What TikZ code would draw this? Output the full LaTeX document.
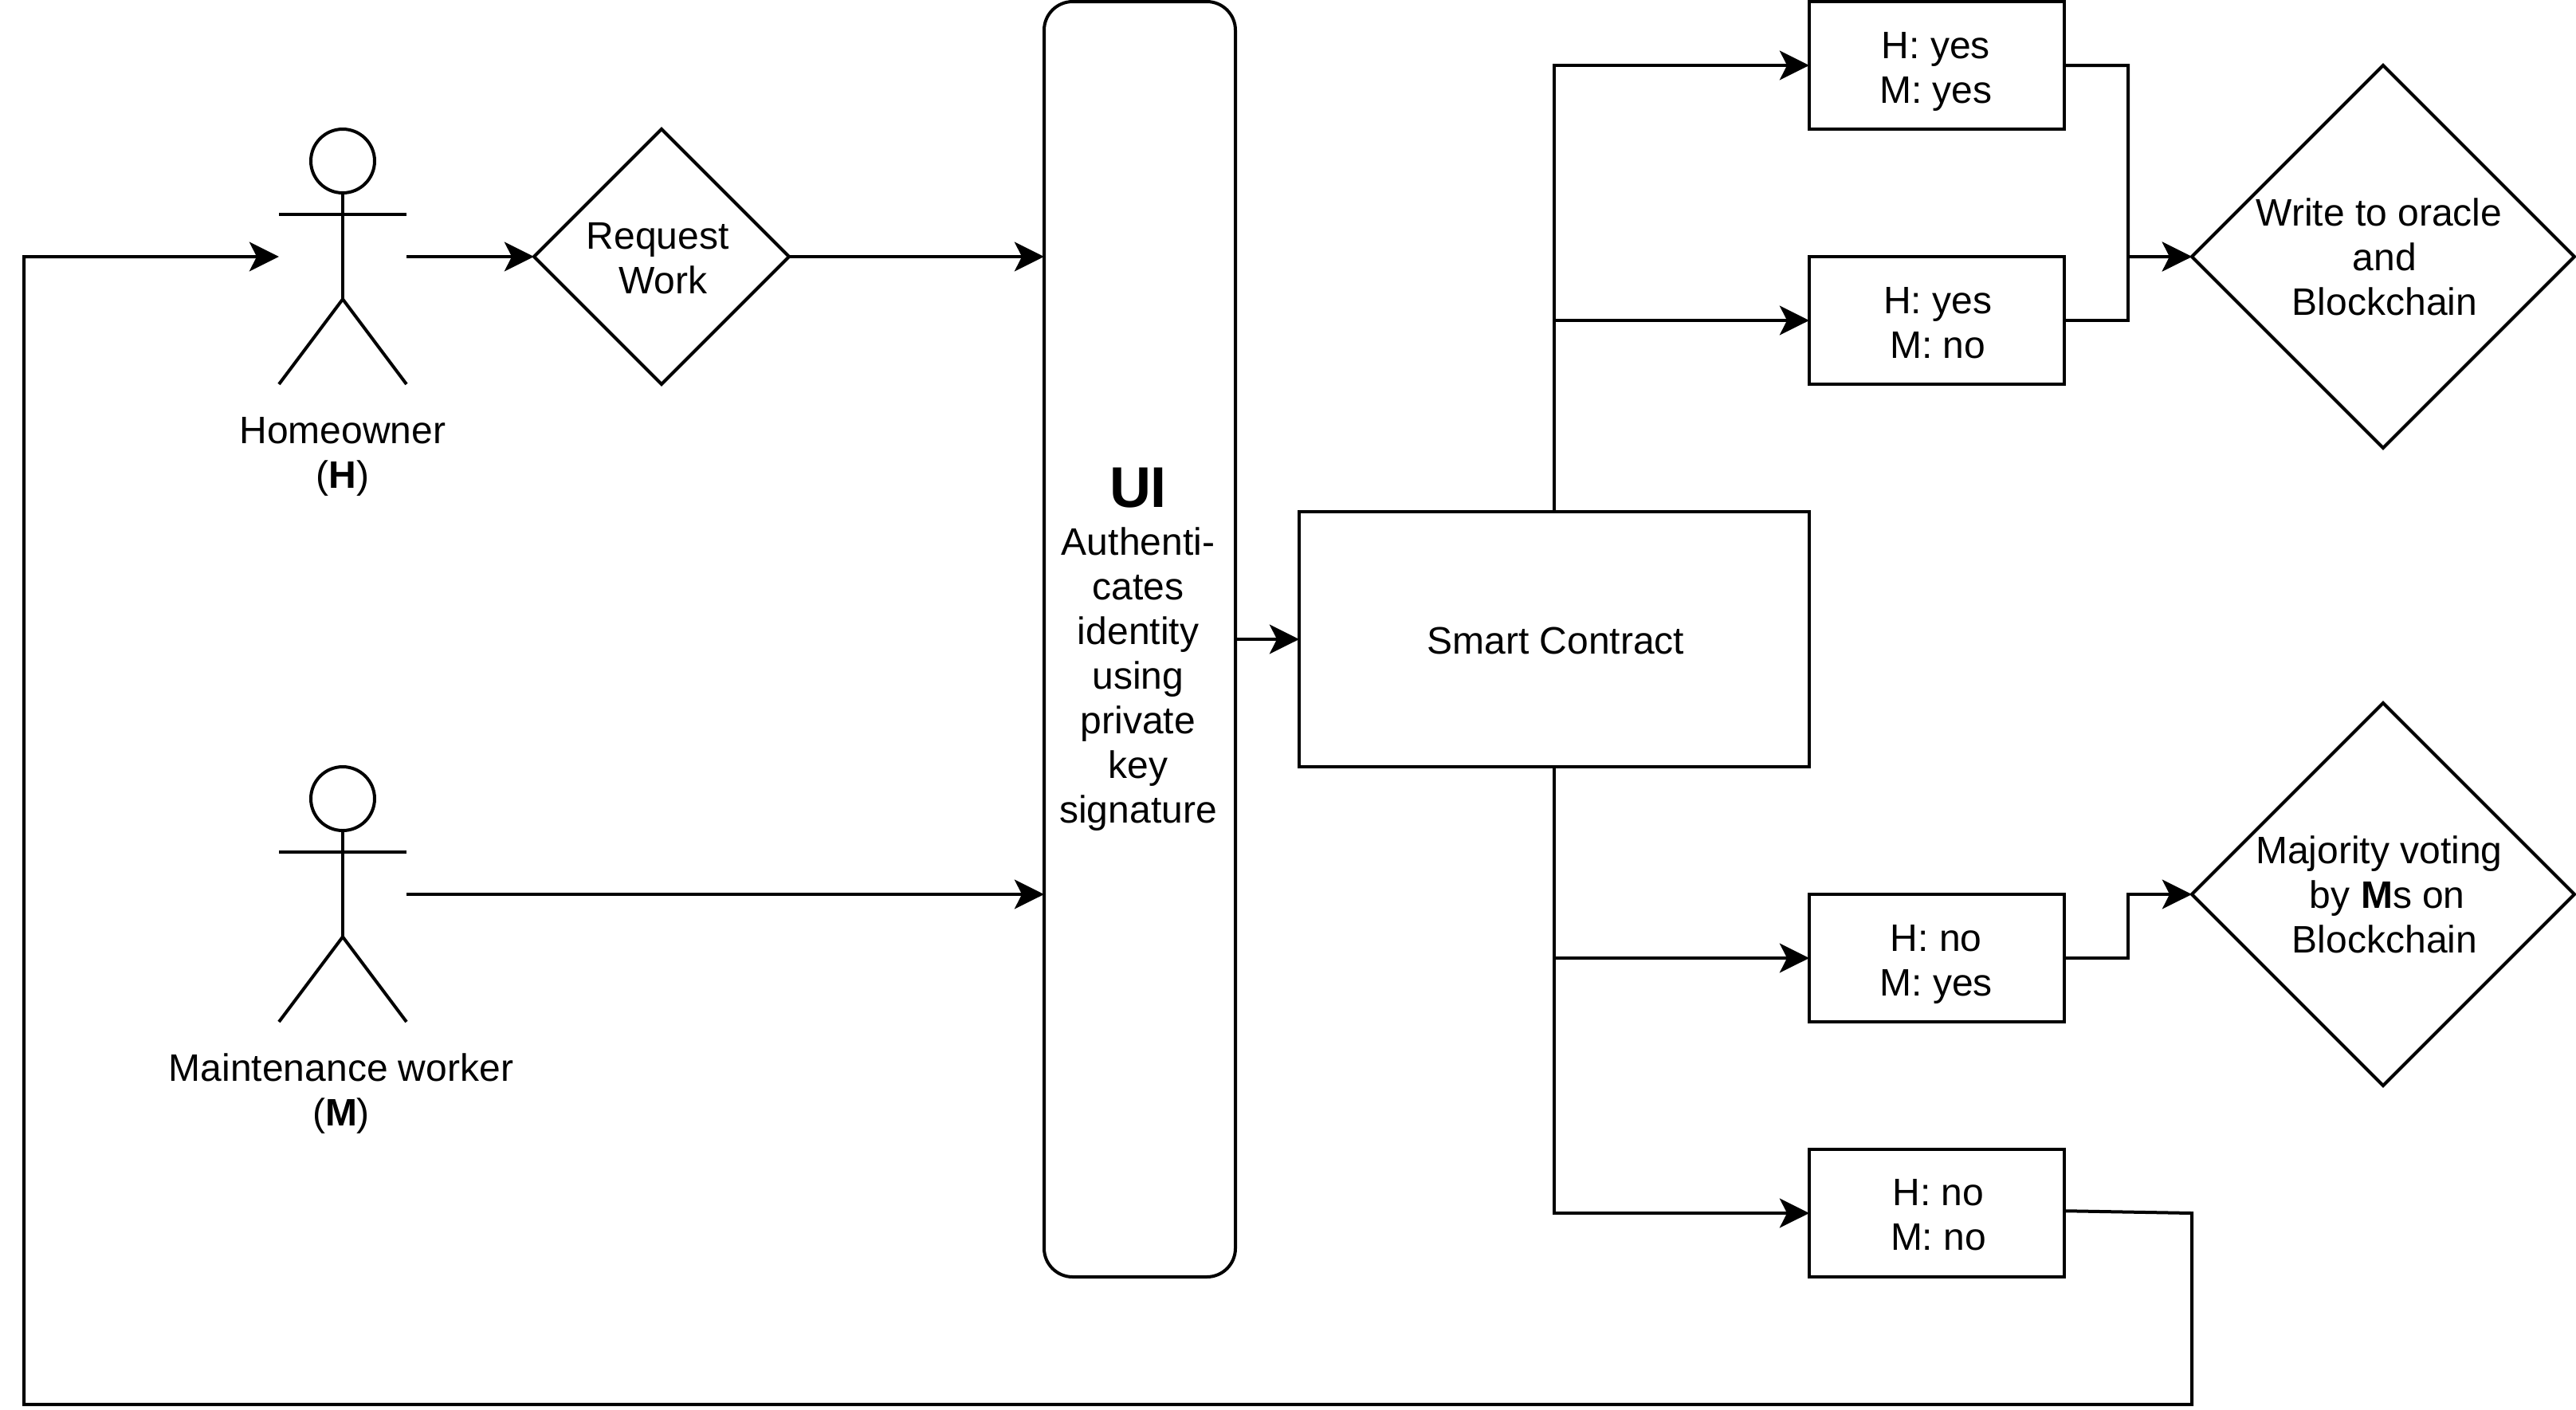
\documentclass[tikz,border=0pt]{standalone}
\usepackage{fontspec}
\setmainfont{Liberation Sans}
\usetikzlibrary{shapes.geometric,arrows.meta,calc}
\newcommand{\dsc}{\vphantom{y}}
\tikzset{
  x=0.96pt,y=-0.96pt,
  every node/.style={inner sep=0pt,outer sep=0pt,align=center,font=\fontsize{11.52}{13.44}\selectfont},
  line/.style={line width=0.96pt,line join=miter,draw=black},
  conn/.style={line,-{Stealth[length=8.9pt,width=8.8pt,inset=2.2pt]}},
  vote/.style={rectangle,line,minimum width=76.8pt,minimum height=38.4pt},
  dia/.style={diamond,line,aspect=1},
  ghost/.style={rectangle,minimum width=38.4pt,minimum height=76.8pt},
  txt/.style={anchor=center},
}
\newcommand{\stickman}[1]{%
  \draw[line] ($(#1.north)+(0,10)$) ellipse [x radius=10,y radius=10];
  \draw[line] ($(#1.north)+(0,20)$) -- ($(#1.north)+(0,53.33)$);
  \draw[line] ($(#1.north west)+(0,26.67)$) -- ($(#1.north east)+(0,26.67)$);
  \draw[line] ($(#1.south west)$) -- ($(#1.north)+(0,53.33)$) -- ($(#1.south east)$);
}
\begin{document}
\begin{tikzpicture}
\useasboundingbox (0,0) rectangle (808,442);
% actors
\node[ghost] (H) at (107.5,80.5) {};
\node[ghost] (M) at (107.5,280.5) {};
\stickman{H}
\stickman{M}
\node (Hl) at (107.5,143.3) {Homeowner\\(\textbf{H})};
\node (Ml) at (107,343.1) {Maintenance worker\\(\textbf{M})};
% boxes, with their texts set apart so they can be placed exactly
\node[dia,minimum width=76.8pt,minimum height=76.8pt] (R) at (207.5,80.5) {};
\node[txt] (Rt) at (208,81) {Request\hspace*{3.2pt}\\Work};
\node[rectangle,line,rounded corners=8.6pt,minimum width=57.6pt,minimum height=384pt] (UI) at (357.5,200.5) {};
\node[txt] (UIt) at (357,203.65) {{\fontsize{17.28}{20.16}\selectfont\bfseries UI}\\[1.1pt]Authenti-\\cates\\identity\\using\\private\\key\\signature};
\node[rectangle,line,minimum width=153.6pt,minimum height=76.8pt] (SC) at (487.5,200.5) {};
\node[txt] (SCt) at (488,201) {Smart Contract};
% votes
\node[vote] (V1) at (607.5,20.5) {};
\node[vote] (V2) at (607.5,100.5) {};
\node[vote] (V3) at (607.5,300.5) {};
\node[vote] (V4) at (607.5,380.5) {};
\node[txt] (V1t) at (607.2,22.5) {H: yes\\M: yes};
\node[txt] (V2t) at (607.8,102.5) {H: yes\\M: no\dsc};
\node[txt] (V3t) at (607.3,302.5) {H: no\\M: yes};
\node[txt] (V4t) at (608,382.2) {H: no\\M: no\dsc};
% outcomes
\node[dia,minimum width=115.2pt,minimum height=115.2pt] (W) at (747.5,80.5) {};
\node[dia,minimum width=115.2pt,minimum height=115.2pt] (J) at (747.5,280.5) {};
\node[txt] (Wt) at (748,80.7) {Write to oracle\hspace*{3.4pt}\\and\hspace*{3.4pt}\\Blockchain};
\node[txt] (Jt) at (748,280.7) {Majority voting\hspace*{3.4pt}\\\hspace*{1.6pt}by \textbf{M}s on\\Blockchain};
% connectors
\draw[conn] (H.east) -- (R.west);
\draw[conn] (R.east) -- (R.east -| UI.west);
\draw[conn] (M.east) -- (M.east -| UI.west);
\draw[conn] (UI.east) -- (SC.west);
\draw[conn] (SC.north) |- (V1.west);
\draw[conn] (SC.north) |- (V2.west);
\draw[conn] (SC.south) |- (V3.west);
\draw[conn] (SC.south) |- (V4.west);
\coordinate (bus) at ($(V1.east)!0.5!(V1.east -| W.west)$);
\draw[conn] (V1.east) -- (bus) -- (bus |- W.west) -- (W.west);
\draw[conn] (V2.east) -- (bus |- V2.east) -- (bus |- W.west) -- (W.west);
\draw[conn] (V3.east) -- (bus |- V3.east) -- (bus |- J.west) -- (J.west);
\coordinate (c1) at (V4.east -| J.west);
\coordinate (c2) at (687.5,440.5);
\coordinate (c3) at (7.5,440.5);
\coordinate (c4) at (7.5,80.5);
\draw[conn] ($(V4.east)+(0,-0.7)$) -- (c1) -- (c2) -- (c3) -- (c4) -- (H.west);
\end{tikzpicture}
\end{document}
